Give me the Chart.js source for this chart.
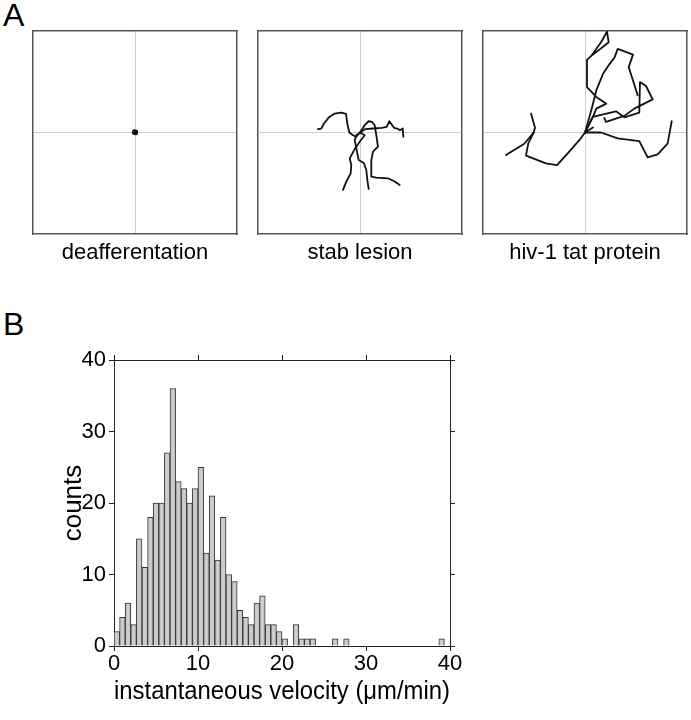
<!DOCTYPE html>
<html>
<head>
<meta charset="utf-8">
<script src="https://cdn.jsdelivr.net/npm/chart.js@4.4.0/dist/chart.umd.min.js"></script>
<style>
  body { margin: 0; background: #fff; width: 691px; height: 720px; position: relative; overflow: hidden;
         font-family: "Liberation Sans", Arial, sans-serif; }
  canvas { position: absolute; }
  .panel-label { position: absolute; font-size: 32px; line-height: 1; color: #000; }
</style>
</head>
<body>
<div class="panel-label" style="left:3px; top:-1px">A</div>
<div class="panel-label" style="left:3px; top:308px">B</div>
<canvas id="deaff" width="210" height="240" style="left:30px; top:28px"></canvas>
<canvas id="stab" width="210" height="240" style="left:255px; top:28px"></canvas>
<canvas id="tat" width="210" height="240" style="left:480px; top:28px"></canvas>
<canvas id="hist" width="691" height="390" style="left:0px; top:330px"></canvas>
<script>
// Panel A : cell tracks, offsets from the starting point (box spans -102..102)
const trackLimit = 102;
const panelTitles = ['deafferentation', 'stab lesion', 'hiv-1 tat protein'];

const deaffTracks = [
  [[0, 0], [1.2, 0.8], [-0.8, 1.2], [1, -0.8], [-1.2, -0.4], [0.8, 0.4], [0, 1]]
];

const stabTracks = [
  [[0, 0], [-3.7, -4.3], [-7, -2.7], [-10.7, 0], [-12.7, 9], [-14, 18.7], [-18.7, 20], [-25.3, 19], [-31.3, 15], [-36, 9], [-38.7, 4], [-42, 3.3]],
  [[0, 0], [5, 3.3], [13.3, 4], [21.7, 4.7], [26.7, 5.7], [29.3, 11.3], [31.7, 8], [34, 4.7], [37.3, 4], [40, 2.3], [42.7, 4], [43.3, -4.3]],
  [[0, 0], [4.7, 7.3], [8.7, 11.3], [12, 10.7], [14.7, 7.3], [16.3, -2.7], [18, -14.3], [13, -19.3], [11.3, -27.7], [11.3, -44.3], [16.3, -45.3], [28, -46], [34.7, -49.3], [39.7, -52.7]],
  [[0, 0], [4.7, -2.7], [-0.3, -9.3], [-5.3, -16.7], [-10.3, -26], [-8.7, -32.7], [-9.3, -41], [-13.7, -49.3], [-17, -57.7]],
  [[0, 0], [-3.7, -2.7], [-5.3, -7.7], [-3.7, -16], [-1.3, -27.7], [4, -31], [6.3, -37.7], [7.3, -47.7], [8.7, -56.7]]
];

const tatTracks = [
  [[0, 0], [-5.7, -7.7], [-17.3, -21], [-28, -32.7], [-39, -31], [-59, -23.3], [-56.7, -11], [-51.3, 0], [-50, 4.7], [-54, 19]],
  [[-51.3, 0], [-60.7, -11.3], [-79, -22.7]],
  [[0, 0], [16, 0], [32.7, -6], [54.3, -8.7], [62.7, -25], [72.7, -22], [82.7, -11], [86.7, 11.3]],
  [[0, 0], [6.3, 22.3], [11.3, 42.3], [18, 59], [24.7, 69], [29.7, 75.7], [32.7, 84], [48, 78.3], [43.7, 65.7], [48, 52.3], [52.7, 37.3]],
  [[0, 0], [8, 15.7], [11.3, 24], [21.3, 29], [11.3, 35.7], [2, 45.7], [2, 73], [6, 76.7], [16, 90.7], [22, 101.3], [23.7, 90.7], [7.7, 78]],
  [[0, 0], [7.7, 15.7], [31, 21.3], [39.3, 15.3], [54.3, 20], [55, 50.7], [61, 46.7], [67.7, 33.3], [49.3, 24], [39.3, 16.7], [21, 10.7], [19.3, 14.7]],
  [[0, 0], [8, 5]]
];

// Panel B : histogram of instantaneous velocity, bins of 2/3 um/min from 0 to 40
const binWidth = 2 / 3;
const counts = [2, 4, 6, 3, 15, 11, 18, 20, 20, 27, 36, 23, 22, 20, 22, 25, 13, 21, 12, 18,
                10, 9, 5, 4, 3, 6, 7, 3, 3, 2, 1, 0, 3, 1, 1, 1, 0, 0, 0, 1,
                0, 1, 0, 0, 0, 0, 0, 0, 0, 0, 0, 0, 0, 0, 0, 0, 0, 0, 1, 0];
const binCenters = counts.map((c, i) => (i + 0.5) * binWidth);
const velocityTicks = [0, 10, 20, 30, 40];
const countTicks = [0, 10, 20, 30, 40];

Chart.defaults.font.family = '"Liberation Sans", Arial, sans-serif';
Chart.defaults.color = '#000';

const boxColor = '#555';
const crossColor = '#cfcfcf';

function frameAxis(pos) {
  return {
    type: 'linear', position: pos, min: -trackLimit, max: trackLimit, offset: false,
    ticks: { display: false, stepSize: trackLimit },
    grid: { drawOnChartArea: false, drawTicks: false, offset: false },
    border: { display: true, color: boxColor, width: 1.5 }
  };
}

function trackChart(id, tracks, titel, lineWidth) {
  const cross = c => (c.tick && c.tick.value === 0) ? crossColor : 'rgba(0,0,0,0)';
  new Chart(document.getElementById(id), {
    type: 'scatter',
    data: {
      datasets: tracks.map(t => ({
        data: t.map(p => ({ x: p[0], y: p[1] })),
        showLine: true, borderColor: '#111', borderWidth: lineWidth, pointRadius: 0, tension: 0,
        borderJoinStyle: 'round', borderCapStyle: 'round'
      }))
    },
    options: {
      responsive: false, animation: false,
      layout: { padding: { left: 3, right: 3, top: 3, bottom: 0 } },
      plugins: { legend: { display: false }, tooltip: { enabled: false } },
      scales: {
        x: {
          type: 'linear', min: -trackLimit, max: trackLimit,
          ticks: { display: false, stepSize: trackLimit },
          grid: { color: cross, drawTicks: false },
          border: { display: true, color: boxColor, width: 1.5 },
          title: { display: true, text: titel, font: { size: 22 }, color: '#000', padding: { top: 0, bottom: 2 } },
          afterFit: s => { s.height = 34; }
        },
        y: {
          type: 'linear', min: -trackLimit, max: trackLimit,
          ticks: { display: false, stepSize: trackLimit },
          grid: { color: cross, drawTicks: false },
          border: { display: true, color: boxColor, width: 1.5 }
        },
        x2: frameAxis('top'),
        y2: frameAxis('right')
      }
    }
  });
}

trackChart('deaff', deaffTracks, panelTitles[0], 4);
trackChart('stab', stabTracks, panelTitles[1], 1.8);
trackChart('tat', tatTracks, panelTitles[2], 1.8);

// histogram
const axisColor = '#222';
const tickGrid = { display: true, drawOnChartArea: false, drawTicks: true, tickLength: 5, color: axisColor, offset: false };

new Chart(document.getElementById('hist'), {
  type: 'bar',
  data: {
    datasets: [{
      data: binCenters.map((v, i) => ({ x: v, y: counts[i] })),
      backgroundColor: '#cbcbcb', borderColor: '#333', borderWidth: 1,
      barPercentage: 1, categoryPercentage: 1
    }]
  },
  options: {
    responsive: false, animation: false,
    plugins: { legend: { display: false }, tooltip: { enabled: false } },
    scales: {
      x: {
        type: 'linear', min: velocityTicks[0], max: velocityTicks[velocityTicks.length - 1], offset: false,
        ticks: { stepSize: 10, font: { size: 22 }, padding: 0, maxRotation: 0, autoSkip: false },
        grid: tickGrid,
        border: { display: true, color: axisColor, width: 1 },
        title: { display: true, text: 'instantaneous velocity (μm/min)', font: { size: 26 }, padding: { top: 0, bottom: 13 } },
        afterFit: s => { s.height = 74; }
      },
      y: {
        type: 'linear', min: countTicks[0], max: countTicks[countTicks.length - 1],
        ticks: { stepSize: 10, font: { size: 22 }, padding: 3 },
        grid: tickGrid,
        border: { display: true, color: axisColor, width: 1 },
        title: { display: true, text: 'counts', font: { size: 26 }, padding: { top: 58, bottom: 0 } },
        afterFit: s => { s.width = 114; }
      },
      x2: {
        type: 'linear', position: 'top', min: 0, max: 40, offset: false,
        ticks: { display: false, stepSize: 10 },
        grid: tickGrid,
        border: { display: true, color: axisColor, width: 1 },
        afterFit: s => { s.height = 30; }
      },
      y2: {
        type: 'linear', position: 'right', min: 0, max: 40,
        ticks: { display: false, stepSize: 10 },
        grid: tickGrid,
        border: { display: true, color: axisColor, width: 1 },
        afterFit: s => { s.width = 241; }
      }
    }
  }
});
</script>
</body>
</html>
